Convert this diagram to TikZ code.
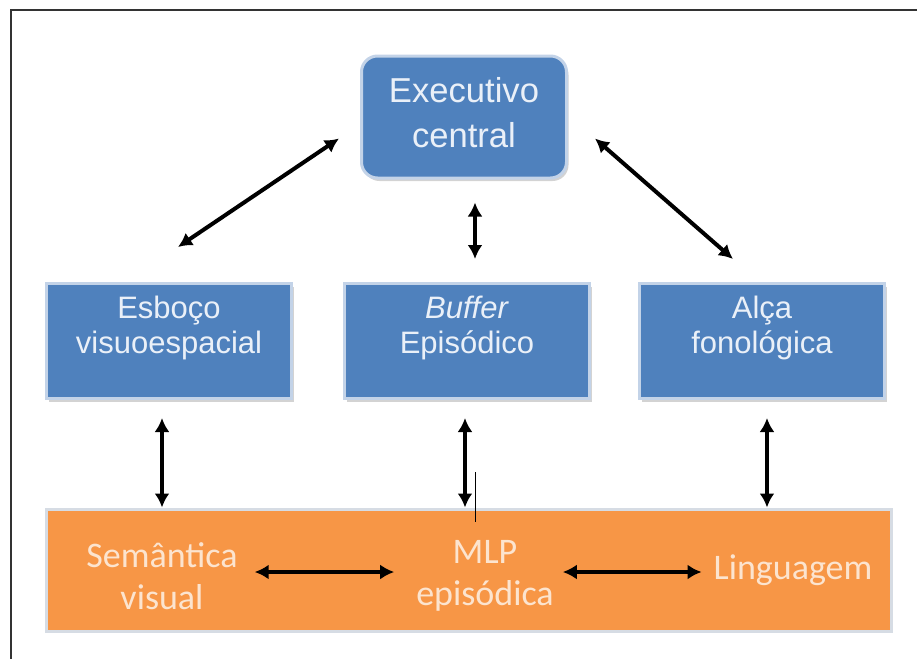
\documentclass[tikz,border=0pt]{standalone}
\usepackage{fontspec}
\setmainfont{Liberation Sans}
\newfontfamily\calfont{Carlito}
\usetikzlibrary{arrows.meta,shadows}
\definecolor{boxblue}{HTML}{4F81BD}
\definecolor{edgeblue}{HTML}{C3D3E8}
\definecolor{txtblue}{HTML}{EAF0F8}
\definecolor{boxorange}{HTML}{F79646}
\definecolor{edgeorange}{HTML}{D6DCE4}
\definecolor{txtorange}{HTML}{FCE4CF}

\begin{document}
\begin{tikzpicture}
[x=.5pt,y=-.5pt]
\tikzset{blk/.style={draw=edgeblue,line width=1.5pt,fill=boxblue,drop shadow={shadow xshift=1pt,shadow yshift=-1.5pt,opacity=.35}}}
\tikzset{exe/.style={blk,rounded corners=8pt,minimum width=102.5pt,minimum height=61pt}}
\tikzset{sub/.style={blk,minimum width=122.5pt,minimum height=57.5pt}}
\tikzset{bluetxt/.style={text=txtblue,align=center,font=\fontsize{15.5}{17.5}\selectfont}}
\tikzset{orgtxt/.style={text=txtorange,align=center,font=\calfont\fontsize{18}{21}\selectfont}}
\tikzset{dbl/.style={{Latex[length=7pt,width=7.5pt]}-{Latex[length=7pt,width=7.5pt]},line width=2pt}}
\useasboundingbox (0,0) rectangle (917,659);

% frame
\draw[line width=1pt,black!80] (917,10) -- (11,10) -- (11,659);

\node [exe] (exec) at (464,117) {};
\node [bluetxt,font=\fontsize{17.3}{22.5}\selectfont] (exec-t) at (464,113) {Executivo\\central};

\node [sub] (esboco) at (169,341) {};
\node [sub] (buffer) at (467,341) {};
\node [sub] (alca) at (762,341) {};
\node [bluetxt] (esboco-t) at (169,328) {Esboço\\visuoespacial};
\node [bluetxt] (buffer-t) at (467,328) {\textit{Buffer}\\Episódico};
\node [bluetxt] (alca-t) at (762,328) {Alça\\fonológica};

\node [draw=edgeorange,line width=1.5pt,fill=boxorange,minimum width=422.5pt,minimum height=61pt] (base) at (469,570) {};
\node [orgtxt] (sem) at (162,576) {Semântica\\visual};
\node [orgtxt] (mlp) at (485,576) {MLP\\episódica};
\node [orgtxt] (ling) at (793,570) {Linguagem};

\draw[dbl] ([xshift=-10.5pt,yshift=20.5pt]exec.south west) -- ([xshift=4.5pt,yshift=17.5pt]esboco.north);
\draw[dbl] ([xshift=13.5pt,yshift=20.5pt]exec.south east) -- ([xshift=-14.5pt,yshift=11.5pt]alca.north);
\draw[dbl] ([xshift=4pt,yshift=-11.5pt]exec.south -| buffer.north) -- ([xshift=4pt,yshift=11.5pt]buffer.north);

\draw[dbl] ([xshift=-3.5pt,yshift=-9pt]esboco.south) -- ([xshift=-3.5pt]esboco.south |- base.north);
\draw[dbl] ([xshift=-1pt,yshift=-9pt]buffer.south) -- ([xshift=-1pt]buffer.south |- base.north);
\draw[dbl] ([xshift=2.5pt,yshift=-9pt]alca.south) -- ([xshift=2.5pt]alca.south |- base.north);

\draw[dbl] ([xshift=5pt,yshift=2pt]sem.east) -- ([xshift=-7.5pt,yshift=2pt]mlp.west);
\draw[dbl] ([xshift=1pt,yshift=2pt]mlp.east) -- ([xshift=-2.5pt,yshift=-1pt]ling.west);

\draw[line width=.5pt] (475,472) -- (475,522);

\end{tikzpicture}
\end{document}
